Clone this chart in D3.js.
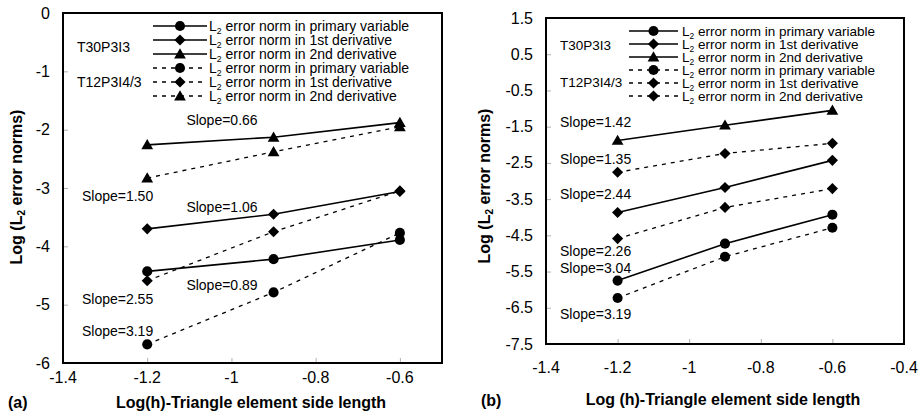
<!DOCTYPE html>
<html>
<head>
<meta charset="utf-8">
<script src="https://cdn.jsdelivr.net/npm/d3@7"></script>
<style>
  html, body { margin: 0; padding: 0; background: #fff; }
  svg { display: block; font-family: "Liberation Sans", Arial, sans-serif; }
</style>
</head>
<body>
<svg id="chart" width="920" height="416"></svg>
<script>
// Element side lengths, log scale
const logH = [-1.2, -0.9, -0.6];

// Panel (a): log L2 error norms
const aT30Primary = [-4.43, -4.22, -3.89];
const aT30First   = [-3.70, -3.45, -3.06];
const aT30Second  = [-2.26, -2.13, -1.88];
const aT12Primary = [-5.68, -4.79, -3.77];
const aT12First   = [-4.59, -3.75, -3.05];
const aT12Second  = [-2.83, -2.38, -1.95];

// Panel (b): log L2 error norms
const bT30Primary = [-5.75, -4.73, -3.93];
const bT30First   = [-3.87, -3.18, -2.43];
const bT30Second  = [-1.88, -1.46, -1.05];
const bT12Primary = [-6.23, -5.09, -4.29];
const bT12First   = [-4.59, -3.73, -3.21];
const bT12Second  = [-2.76, -2.24, -1.96];

// Tick labels
const aXTicks = [-1.4, -1.2, -1.0, -0.8, -0.6];
const aYTicks = [0, -1, -2, -3, -4, -5, -6];
const bXTicks = [-1.4, -1.2, -1.0, -0.8, -0.6, -0.4];
const bYTicks = [1.5, 0.5, -0.5, -1.5, -2.5, -3.5, -4.5, -5.5, -6.5, -7.5];

// Slope annotations
const aSlopes = ["Slope=0.66", "Slope=1.50", "Slope=1.06", "Slope=2.55", "Slope=0.89", "Slope=3.19"];
const bSlopes = ["Slope=1.42", "Slope=1.35", "Slope=2.44", "Slope=2.26", "Slope=3.04", "Slope=3.19"];

// Legend entries
const legendNames = ["primary variable", "1st derivative", "2nd derivative",
                     "primary variable", "1st derivative", "2nd derivative"];
const meshNames = ["T30P3I3", "T12P3I4/3"];

const svg = d3.select("#chart");
const FONT = "'Liberation Sans', Arial, sans-serif";

const symCircle = d3.symbol().type(d3.symbolCircle).size(80)();
const symTriangle = d3.symbol().type(d3.symbolTriangle).size(60)();
const symDiamond = d3.symbol().type(d3.symbolSquare).size(62)();

// plain hyphen-minus tick text
const tickText = d => String(+d.toFixed(2));

function marker(g, shape, x, y) {
  const p = g.append("path").attr("fill", "#000");
  if (shape === "circle") p.attr("d", symCircle).attr("transform", `translate(${x},${y})`);
  else if (shape === "triangle") p.attr("d", symTriangle).attr("transform", `translate(${x},${y + 1})`);
  else p.attr("d", symDiamond).attr("transform", `translate(${x},${y}) rotate(45)`);
}

function l2Text(sel, rest, size) {
  sel.append("tspan").text("L");
  sel.append("tspan").attr("font-size", size * 0.62).attr("dy", 3).text("2");
  sel.append("tspan").attr("dy", -3).text(" " + rest);
}

function drawPanel(cfg) {
  const g = svg.append("g");
  const x = d3.scaleLinear().domain(cfg.xDomain).range([cfg.left, cfg.right]);
  const y = d3.scaleLinear().domain(cfg.yDomain).range([cfg.bottom, cfg.top]);

  // tick marks inside the frame
  const yAxis = d3.axisLeft(y).tickValues(cfg.yTicks).tickSize(-5).tickFormat("");
  const xAxis = d3.axisBottom(x).tickValues(cfg.xTicks).tickSize(-5).tickFormat("");
  const ya = g.append("g").attr("transform", `translate(${cfg.left},0)`).call(yAxis);
  const xa = g.append("g").attr("transform", `translate(0,${cfg.bottom})`).call(xAxis);
  [ya, xa].forEach(a => {
    a.select(".domain").remove();
    a.selectAll(".tick line").attr("stroke", "#b0b0b0").attr("stroke-width", 1);
  });

  // tick labels
  g.selectAll(".ylab").data(cfg.yTicks).join("text")
    .attr("x", cfg.left - 13).attr("y", d => y(d) + 5.5)
    .attr("text-anchor", "end").attr("font-size", 16).attr("font-family", FONT)
    .text(tickText);
  g.selectAll(".xlab").data(cfg.xTicks).join("text")
    .attr("x", d => x(d)).attr("y", cfg.xLabelY)
    .attr("text-anchor", "middle").attr("font-size", 16).attr("font-family", FONT)
    .text(tickText);

  // series
  const line = d3.line().x((d, i) => x(logH[i])).y(d => y(d));
  cfg.series.forEach(s => {
    g.append("path").datum(s.values).attr("d", line)
      .attr("fill", "none").attr("stroke", "#000")
      .attr("stroke-width", s.dashed ? 1.3 : 1.6)
      .attr("stroke-dasharray", s.dashed ? "4,5" : null);
    s.values.forEach((v, i) => marker(g, s.shape, x(logH[i]), y(v)));
  });

  // slope annotations
  cfg.slopes.forEach((t, i) => {
    const pos = cfg.slopePos[i];
    g.append("text").attr("x", x(pos[0])).attr("y", y(pos[1]) + 5)
      .attr("font-size", 14).attr("font-family", FONT).text(t);
  });

  // legend
  cfg.series.forEach((s, i) => {
    const ly = cfg.legend.y0 + i * cfg.legend.dy;
    g.append("line").attr("x1", cfg.legend.x1).attr("x2", cfg.legend.x2)
      .attr("y1", ly).attr("y2", ly).attr("stroke", "#000")
      .attr("stroke-width", s.dashed ? 1.3 : 1.6)
      .attr("stroke-dasharray", s.dashed ? "4,5" : null);
    marker(g, s.shape, (cfg.legend.x1 + cfg.legend.x2) / 2, ly);
    const t = g.append("text").attr("x", cfg.legend.tx).attr("y", ly + 4.5)
      .attr("font-size", cfg.legend.fs).attr("font-family", FONT);
    l2Text(t, "error norm in " + legendNames[i], cfg.legend.fs);
  });
  meshNames.forEach((m, i) => {
    g.append("text").attr("x", cfg.meshX).attr("y", cfg.meshY[i] + 5)
      .attr("font-size", cfg.legend.fs).attr("font-family", FONT).text(m);
  });

  // frame
  g.append("rect").attr("x", cfg.left).attr("y", cfg.top)
    .attr("width", cfg.right - cfg.left).attr("height", cfg.bottom - cfg.top)
    .attr("fill", "none").attr("stroke", "#000").attr("stroke-width", 2);

  // axis titles
  g.append("text").attr("x", cfg.xTitle[0]).attr("y", cfg.xTitle[1])
    .attr("text-anchor", "middle").attr("font-size", 16).attr("font-weight", "bold")
    .attr("font-family", FONT).text(cfg.xTitleText);
  const yt = g.append("text")
    .attr("transform", `translate(${cfg.yTitle[0]},${cfg.yTitle[1]}) rotate(-90)`)
    .attr("text-anchor", "middle").attr("font-size", 16).attr("font-weight", "bold")
    .attr("font-family", FONT);
  yt.append("tspan").text("Log (L");
  yt.append("tspan").attr("font-size", 10).attr("dy", 3).text("2");
  yt.append("tspan").attr("dy", -3).text(" error norms)");

  g.append("text").attr("x", cfg.tag[0]).attr("y", cfg.tag[1])
    .attr("font-size", 16).attr("font-weight", "bold").attr("font-family", FONT).text(cfg.tagText);
}

drawPanel({
  left: 63, right: 442, top: 13, bottom: 363,
  xDomain: [-1.4, -0.5], yDomain: [-6, 0],
  xTicks: aXTicks, yTicks: aYTicks, xLabelY: 383,
  series: [
    { values: aT30Primary, shape: "circle", dashed: false },
    { values: aT30First, shape: "diamond", dashed: false },
    { values: aT30Second, shape: "triangle", dashed: false },
    { values: aT12Primary, shape: "circle", dashed: true },
    { values: aT12First, shape: "diamond", dashed: true },
    { values: aT12Second, shape: "triangle", dashed: true }
  ],
  slopes: aSlopes,
  slopePos: [[-1.107, -1.83], [-1.355, -3.14], [-1.107, -3.33], [-1.355, -4.90], [-1.107, -4.66], [-1.355, -5.45]],
  legend: { x1: 153, x2: 207, tx: 209, y0: 26, dy: 14, fs: 14 },
  meshX: 77, meshY: [47, 82],
  xTitle: [251, 408], xTitleText: "Log(h)-Triangle element side length",
  yTitle: [22, 187], tag: [8, 408], tagText: "(a)"
});

drawPanel({
  left: 546, right: 904, top: 18, bottom: 344,
  xDomain: [-1.4, -0.4], yDomain: [-7.5, 1.5],
  xTicks: bXTicks, yTicks: bYTicks, xLabelY: 373,
  series: [
    { values: bT30Primary, shape: "circle", dashed: false },
    { values: bT30First, shape: "diamond", dashed: false },
    { values: bT30Second, shape: "triangle", dashed: false },
    { values: bT12Primary, shape: "circle", dashed: true },
    { values: bT12First, shape: "diamond", dashed: true },
    { values: bT12Second, shape: "diamond", dashed: true }
  ],
  slopes: bSlopes,
  slopePos: [[-1.361, -1.38], [-1.361, -2.40], [-1.361, -3.37], [-1.361, -4.92], [-1.361, -5.39], [-1.361, -6.67]],
  legend: { x1: 629, x2: 678, tx: 682, y0: 31, dy: 13, fs: 13.5 },
  meshX: 560, meshY: [45, 82],
  xTitle: [723, 405], xTitleText: "Log (h)-Triangle element side length",
  yTitle: [490, 186], tag: [481, 406], tagText: "(b)"
});
</script>
</body>
</html>
